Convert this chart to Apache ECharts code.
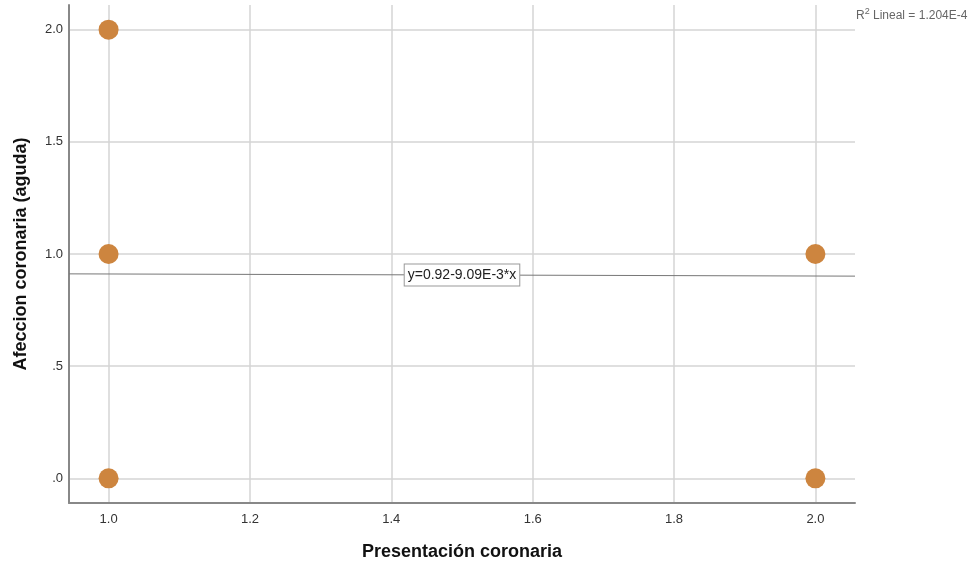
<!DOCTYPE html>
<html>
<head>
<meta charset="utf-8">
<script src="https://cdn.jsdelivr.net/npm/echarts@6/dist/echarts.min.js"></script>
<style>
  html, body { margin: 0; padding: 0; background: #fff; }
  #chart { width: 976px; height: 565px; }
</style>
</head>
<body>
<div id="chart"></div>
<script>
// Observed cases: presentación coronaria (x) vs afección coronaria aguda (y)
const xValues = [1, 1, 1, 2, 2];
const yValues = [2, 1, 0, 1, 0];

// Linear fit y = a + b*x
const fitIntercept = 0.92;
const fitSlope = -9.09e-3;
const fitLabel = 'y=0.92-9.09E-3*x';
const r2Text = '1.204E-4';

// Axis ranges and tick labels
const xMin = 0.944, xMax = 2.056;
const yMin = -0.11, yMax = 2.11;
const xTicks = [1.0, 1.2, 1.4, 1.6, 1.8, 2.0];
const yTicks = [0, 0.5, 1.0, 1.5, 2.0];
const yTickLabels = ['.0', '.5', '1.0', '1.5', '2.0'];

const points = xValues.map((x, i) => [x, yValues[i]]);
const fitLine = [xMin, xMax].map(x => [x, fitIntercept + fitSlope * x]);
const fitMid = (xMin + xMax) / 2;

const font = '"Liberation Sans", Arial, sans-serif';
const chart = echarts.init(document.getElementById('chart'));

chart.setOption({
  animation: false,
  backgroundColor: '#ffffff',
  textStyle: { fontFamily: font },
  grid: { left: 69, right: 121, top: 5, bottom: 62, containLabel: false, outerBoundsMode: 'none' },
  xAxis: {
    type: 'value', min: xMin, max: xMax,
    name: 'Presentación coronaria', nameLocation: 'middle', nameGap: 40, nameMoveOverlap: false,
    nameTextStyle: { fontSize: 18, fontWeight: 'bold', color: '#111', fontFamily: font },
    axisLine: { show: true, onZero: false, lineStyle: { color: '#888', width: 2 } },
    axisTick: { show: false, customValues: xTicks },
    axisLabel: {
      color: '#333', fontSize: 13, margin: 10, fontFamily: font,
      customValues: xTicks,
      formatter: v => v.toFixed(1)
    },
    splitLine: { show: true, lineStyle: { color: '#d4d4d4', width: 1.5 } }
  },
  yAxis: {
    type: 'value', min: yMin, max: yMax,
    name: 'Afeccion coronaria (aguda)', nameLocation: 'middle', nameGap: 39, nameMoveOverlap: false,
    nameTextStyle: { fontSize: 18, fontWeight: 'bold', color: '#111', fontFamily: font },
    axisLine: { show: true, onZero: false, lineStyle: { color: '#888', width: 2 } },
    axisTick: { show: false, customValues: yTicks },
    axisLabel: {
      color: '#333', fontSize: 13, margin: 6, fontFamily: font,
      customValues: yTicks,
      formatter: v => yTickLabels[yTicks.findIndex(t => Math.abs(t - v) < 1e-6)]
    },
    splitLine: { show: true, lineStyle: { color: '#d4d4d4', width: 1.5 } }
  },
  series: [
    {
      type: 'line',
      data: fitLine,
      symbol: 'none',
      lineStyle: { color: '#777', width: 1 },
      z: 2,
      markPoint: {
        symbol: 'rect', symbolSize: 0,
        data: [{ coord: [fitMid, fitIntercept + fitSlope * fitMid] }],
        label: {
          show: true, position: 'inside',
          formatter: fitLabel,
          color: '#222', fontSize: 14, fontFamily: font,
          backgroundColor: '#fff', borderColor: '#999', borderWidth: 1,
          padding: [4, 3, 3, 3]
        }
      }
    },
    {
      type: 'scatter',
      data: points,
      symbolSize: 20,
      itemStyle: { color: '#cd853f', opacity: 1 },
      z: 3
    }
  ],
  graphic: [
    {
      type: 'text', left: 856, top: 7,
      style: {
        text: '{n|R}{s|2}{n| Lineal = ' + r2Text + '}',
        rich: {
          n: { fontSize: 12, fill: '#666', fontFamily: font, verticalAlign: 'bottom' },
          s: { fontSize: 9, fill: '#666', fontFamily: font, verticalAlign: 'top', padding: [0, 0, 6, 0] }
        }
      }
    }
  ]
});
</script>
</body>
</html>
